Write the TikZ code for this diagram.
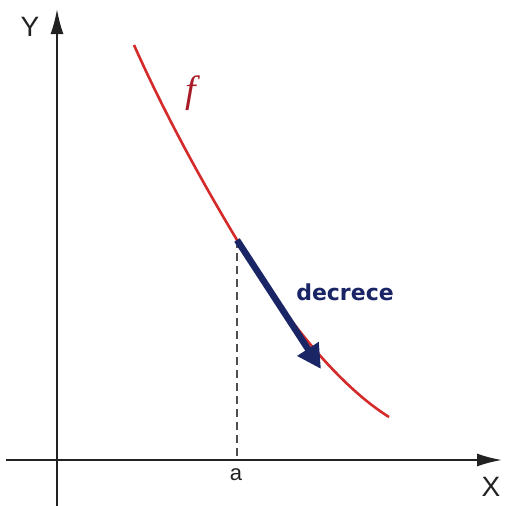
\documentclass[tikz,border=0pt]{standalone}
\usepackage{fontspec}
\setmainfont{Liberation Sans}
\newfontfamily\decfont{DejaVu Sans}
\newfontfamily\ffont{Liberation Serif}
\usetikzlibrary{arrows.meta}
\definecolor{curvered}{HTML}{D42A2A}
\definecolor{fred}{HTML}{A81C28}
\definecolor{navyarrow}{HTML}{1A2566}
\definecolor{axisgray}{HTML}{222222}
\tikzset{
  axisline/.style={line width=2pt, draw=axisgray, -{Latex[length=25pt,width=13pt]}},
  curveline/.style={line width=2.6pt, draw=curvered},
  dashline/.style={line width=1.4pt, draw=axisgray!80, dash pattern=on 8pt off 5pt},
  decarrow/.style={line width=6.5pt, draw=navyarrow, -{Triangle[length=24pt,width=24pt]}},
  lbl/.style={inner sep=0pt, font=\fontsize{28}{30}\selectfont, text=axisgray}
}
\begin{document}
\begin{tikzpicture}[x=1pt,y=-1pt]
\useasboundingbox (0,0) rectangle (506,506);
\fill[white] (0,0) rectangle (506,506);
% axes
\coordinate (xs) at (6,460);
\coordinate (xe) at (502,460);
\coordinate (ys) at (57,506);
\coordinate (ye) at (57,9);
\draw[axisline] (xs) -- (xe);
\draw[axisline] (ys) -- (ye);
\node[lbl] (ylab) at (30,27) {Y};
\node[lbl] (xlab) at (491,487) {X};
% point a
\coordinate (pa) at (237,240);
\coordinate (pax) at (237,460);
\draw[dashline] (pa) -- (pax);
\node[lbl, font=\fontsize{22}{24}\selectfont] (alab) at (236,475) {a};
% curve
\coordinate (c0) at (134,45);
\coordinate (c2) at (389,417);
\draw[curveline] (c0) .. controls (163,110) and (198,175) .. (pa)
                      .. controls (273,300) and (330,380) .. (c2);
\node[inner sep=0pt, text=fred, font=\ffont\itshape\fontsize{38}{40}\selectfont] (flab) at (191,93) {f};
% decreasing arrow
\coordinate (arre) at (321,369);
\draw[decarrow] (pa) -- (arre);
\node[inner sep=0pt, text=navyarrow, font=\decfont\bfseries\fontsize{22}{24}\selectfont] (dec) at (345,292) {decrece};
\end{tikzpicture}
\end{document}
